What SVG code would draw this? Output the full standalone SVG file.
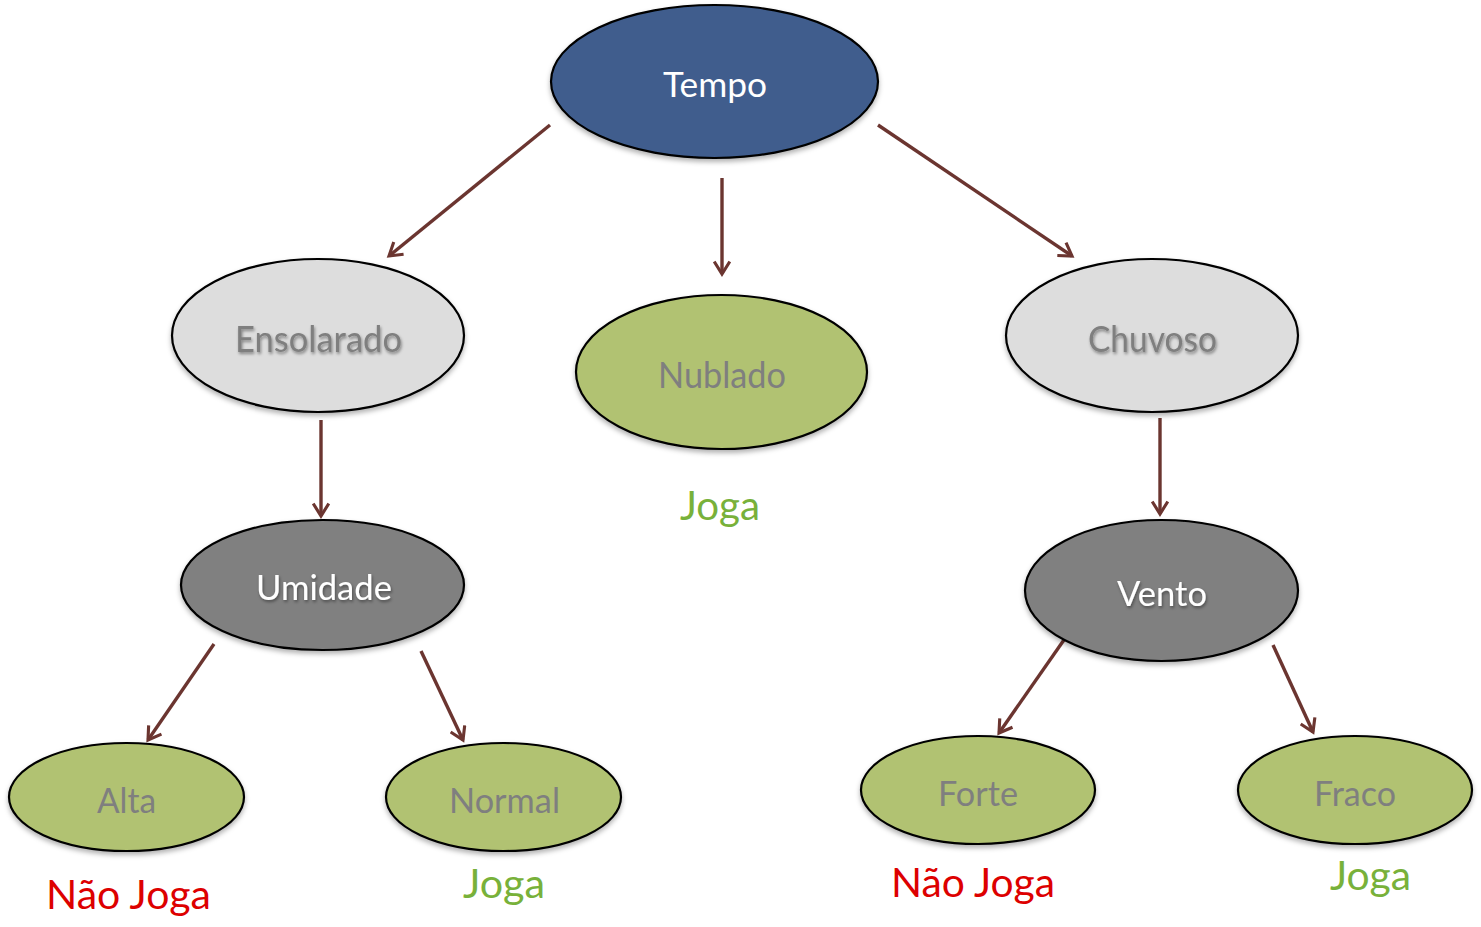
<svg xmlns="http://www.w3.org/2000/svg" width="1481" height="927" viewBox="0 0 1481 927">
<style>
.n{stroke:#000;stroke-width:2.2;filter:url(#sh)}
.blue{fill:#3F5D8D}
.light{fill:#DDDDDD}
.green{fill:#B1C272}
.dark{fill:#808080}
.t{font-family:Lato,"Open Sans","Noto Sans",sans-serif;text-anchor:middle}
.w{fill:#FFFFFF}
.g{fill:#7F7F7F}
.ts{filter:url(#tsh)}
.res{font-family:Lato,"Open Sans","Noto Sans",sans-serif;text-anchor:middle;font-size:40px}
.yes{fill:#78B13A}
.no{fill:#DD0000}
.c line{stroke:#6B3530;stroke-width:3.4;marker-end:url(#ah)}
</style>
<defs>
<filter id="sh" x="-10%" y="-10%" width="120%" height="130%">
<feDropShadow dx="0" dy="3" stdDeviation="2.5" flood-color="#000" flood-opacity="0.3"/>
</filter>
<filter id="tsh" x="-10%" y="-30%" width="120%" height="160%">
<feDropShadow dx="1" dy="2" stdDeviation="1.5" flood-color="#000" flood-opacity="0.4"/>
</filter>
<marker id="ah" viewBox="0 0 12 12" refX="10" refY="6" markerWidth="5.5" markerHeight="5.5" orient="auto" markerUnits="strokeWidth">
<path d="M2,1 L10,6 L2,11" fill="none" stroke="#6B3530" stroke-width="2"/>
</marker>
</defs>
<rect width="1481" height="927" fill="#FFFFFF"/>
<g class="c" id="connectors">
<line x1="550" y1="125" x2="389" y2="256"/>
<line x1="722" y1="178" x2="722" y2="274"/>
<line x1="878" y1="125" x2="1072" y2="256"/>
<line x1="321" y1="420" x2="321" y2="516"/>
<line x1="1160" y1="418" x2="1160" y2="514"/>
<line x1="214" y1="644" x2="148" y2="740"/>
<line x1="421" y1="651" x2="463" y2="740"/>
<line x1="1066" y1="637" x2="999" y2="733"/>
<line x1="1273" y1="645" x2="1313" y2="732"/>
</g>
<g id="tempo">
<ellipse class="n blue" cx="714.5" cy="81.5" rx="163.5" ry="76.5"/>
<text class="t w" x="715" y="97" font-size="34" textLength="104" lengthAdjust="spacingAndGlyphs">Tempo</text>
</g>
<g id="ensolarado">
<ellipse class="n light" cx="318" cy="335.5" rx="146" ry="76.5"/>
<text class="t g ts" x="318.5" y="352" font-size="36" textLength="167" lengthAdjust="spacingAndGlyphs">Ensolarado</text>
</g>
<g id="nublado">
<ellipse class="n green" cx="721.5" cy="372" rx="145.5" ry="77"/>
<text class="t g" x="722" y="388" font-size="36" textLength="128" lengthAdjust="spacingAndGlyphs">Nublado</text>
</g>
<g id="chuvoso">
<ellipse class="n light" cx="1152" cy="335.5" rx="146" ry="76.5"/>
<text class="t g ts" x="1152.5" y="352" font-size="36" textLength="129" lengthAdjust="spacingAndGlyphs">Chuvoso</text>
</g>
<g id="umidade">
<ellipse class="n dark" cx="322.5" cy="585" rx="141.5" ry="65"/>
<text class="t w ts" x="324" y="600" font-size="34" textLength="136" lengthAdjust="spacingAndGlyphs">Umidade</text>
</g>
<g id="vento">
<ellipse class="n dark" cx="1161.5" cy="590.5" rx="136.5" ry="70.5"/>
<text class="t w ts" x="1162" y="606" font-size="34" textLength="90" lengthAdjust="spacingAndGlyphs">Vento</text>
</g>
<g id="alta">
<ellipse class="n green" cx="126.5" cy="797" rx="117.5" ry="54"/>
<text class="t g" x="126.5" y="813" font-size="34" textLength="59" lengthAdjust="spacingAndGlyphs">Alta</text>
</g>
<g id="normal">
<ellipse class="n green" cx="503.5" cy="797" rx="117.5" ry="54"/>
<text class="t g" x="504.5" y="813" font-size="34" textLength="111" lengthAdjust="spacingAndGlyphs">Normal</text>
</g>
<g id="forte">
<ellipse class="n green" cx="978" cy="790" rx="117" ry="54"/>
<text class="t g" x="978" y="806" font-size="34" textLength="80" lengthAdjust="spacingAndGlyphs">Forte</text>
</g>
<g id="fraco">
<ellipse class="n green" cx="1355" cy="790" rx="117" ry="54"/>
<text class="t g" x="1355" y="806" font-size="34" textLength="82" lengthAdjust="spacingAndGlyphs">Fraco</text>
</g>
<g id="labels">
<text class="res yes" x="720" y="520" textLength="80" lengthAdjust="spacingAndGlyphs">Joga</text>
<text class="res no" x="128.5" y="909" textLength="165" lengthAdjust="spacingAndGlyphs">Não Joga</text>
<text class="res yes" x="504" y="898" textLength="82" lengthAdjust="spacingAndGlyphs">Joga</text>
<text class="res no" x="973" y="897" textLength="164" lengthAdjust="spacingAndGlyphs">Não Joga</text>
<text class="res yes" x="1370.5" y="890" textLength="81" lengthAdjust="spacingAndGlyphs">Joga</text>
</g>
</svg>
